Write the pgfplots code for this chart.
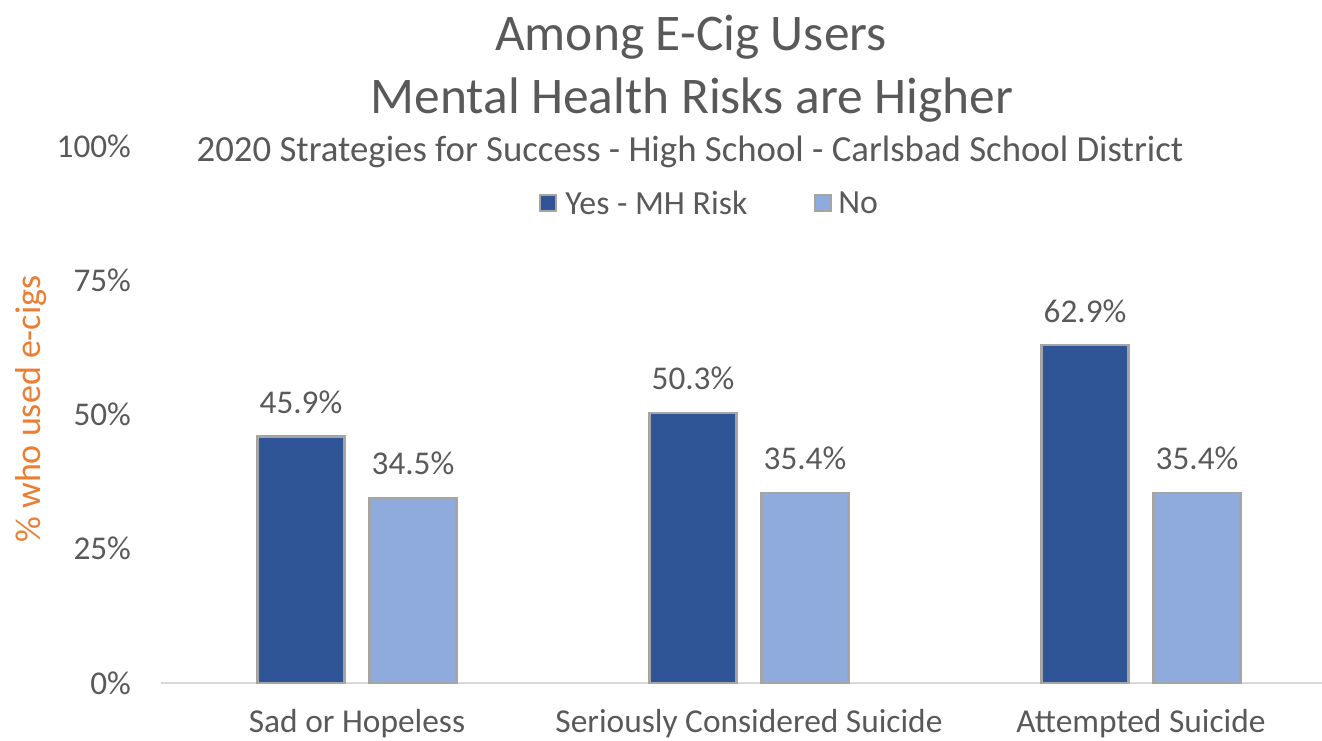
\documentclass[border=0pt]{standalone}
\usepackage{pgfplots}
\pgfplotsset{compat=1.18}
\usepackage{fontspec}
\setmainfont{Carlito}
\definecolor{darkb}{HTML}{2F5597}
\definecolor{lightb}{HTML}{8FAADC}
\definecolor{edge}{HTML}{A5A5A5}
\definecolor{txt}{HTML}{595959}
\definecolor{orng}{HTML}{ED7D31}
\definecolor{base}{HTML}{D9D9D9}
\begin{document}
\begin{tikzpicture}[x=1pt,y=1pt]
\begin{axis}[
  name=ax,
  at={(0,0)}, anchor=south west,
  scale only axis,
  width=580.5pt, height=268.5pt,
  xmin=-0.5, xmax=2.4617,
  ymin=0, ymax=100,
  axis lines=left,
  x axis line style={draw=base, line width=1pt, -},
  y axis line style={draw=none},
  major tick length=0pt,
  ytick={0,25,50,75,100},
  yticklabel={\pgfmathprintnumber{\tick}\%},
  /pgf/number format/assume math mode=true,
  yticklabel style={font=\fontsize{16.6}{19}\selectfont, text=txt, xshift=-11.5pt},
  xtick={0,1,2},
  xticklabels={Sad or Hopeless, Seriously Considered Suicide, Attempted Suicide},
  xticklabel style={font=\fontsize{16.7}{19}\selectfont, text=txt, anchor=center, yshift=-20.5pt},
  ybar, bar width=43.5pt,
  nodes near coords={\pgfmathprintnumber[fixed,precision=1,fixed zerofill]{\pgfplotspointmeta}\%},
  nodes near coords style={font=\fontsize{16.6}{19}\selectfont, text=txt, anchor=south, yshift=7.5pt},
  clip=false,
]
\addplot[ybar, bar shift=-28pt, fill=darkb, draw=edge, line width=1.2pt] coordinates {(0,45.9) (1,50.3) (2,62.9)};
\addplot[ybar, bar shift=28pt, fill=lightb, draw=edge, line width=1.2pt] coordinates {(0,34.5) (1,35.4) (2,35.4)};
\end{axis}
% texts placed by pixel position (0.5pt per px, origin at axis south west = px (161,683))
\node[font=\fontsize{18}{21}\selectfont, text=orng, rotate=90] at ({(31-161)*0.5},{(683-409)*0.5}) {\% who used e-cigs};
\node[font=\fontsize{25.7}{30}\selectfont, text=txt] at ({(691-161)*0.5},{(683-37)*0.5}) {Among E-Cig Users};
\node[font=\fontsize{25.7}{30}\selectfont, text=txt] at ({(692-161)*0.5},{(683-100)*0.5}) {Mental Health Risks are Higher};
\node[font=\fontsize{18.4}{21}\selectfont, text=txt] at ({(690-161)*0.5},{(683-152)*0.5}) {2020 Strategies for Success - High School - Carlsbad School District};
% legend
\filldraw[fill=darkb, draw=edge, line width=0.8pt] ({(540-161)*0.5},{(683-211)*0.5}) rectangle ++(8,8);
\node[font=\fontsize{16.9}{20}\selectfont, text=txt, anchor=west, inner sep=0pt] at ({(565-161)*0.5},{(683-203)*0.5}) {Yes - MH Risk};
\filldraw[fill=lightb, draw=edge, line width=0.8pt] ({(815-161)*0.5},{(683-211)*0.5}) rectangle ++(8,8);
\node[font=\fontsize{16.9}{20}\selectfont, text=txt, anchor=west, inner sep=0pt] at ({(838-161)*0.5},{(683-203)*0.5}) {No};
\pgfresetboundingbox
\path ({-161*0.5},{-(740-683)*0.5}) rectangle ({(1322-161)*0.5},{683*0.5});
\end{tikzpicture}
\end{document}
